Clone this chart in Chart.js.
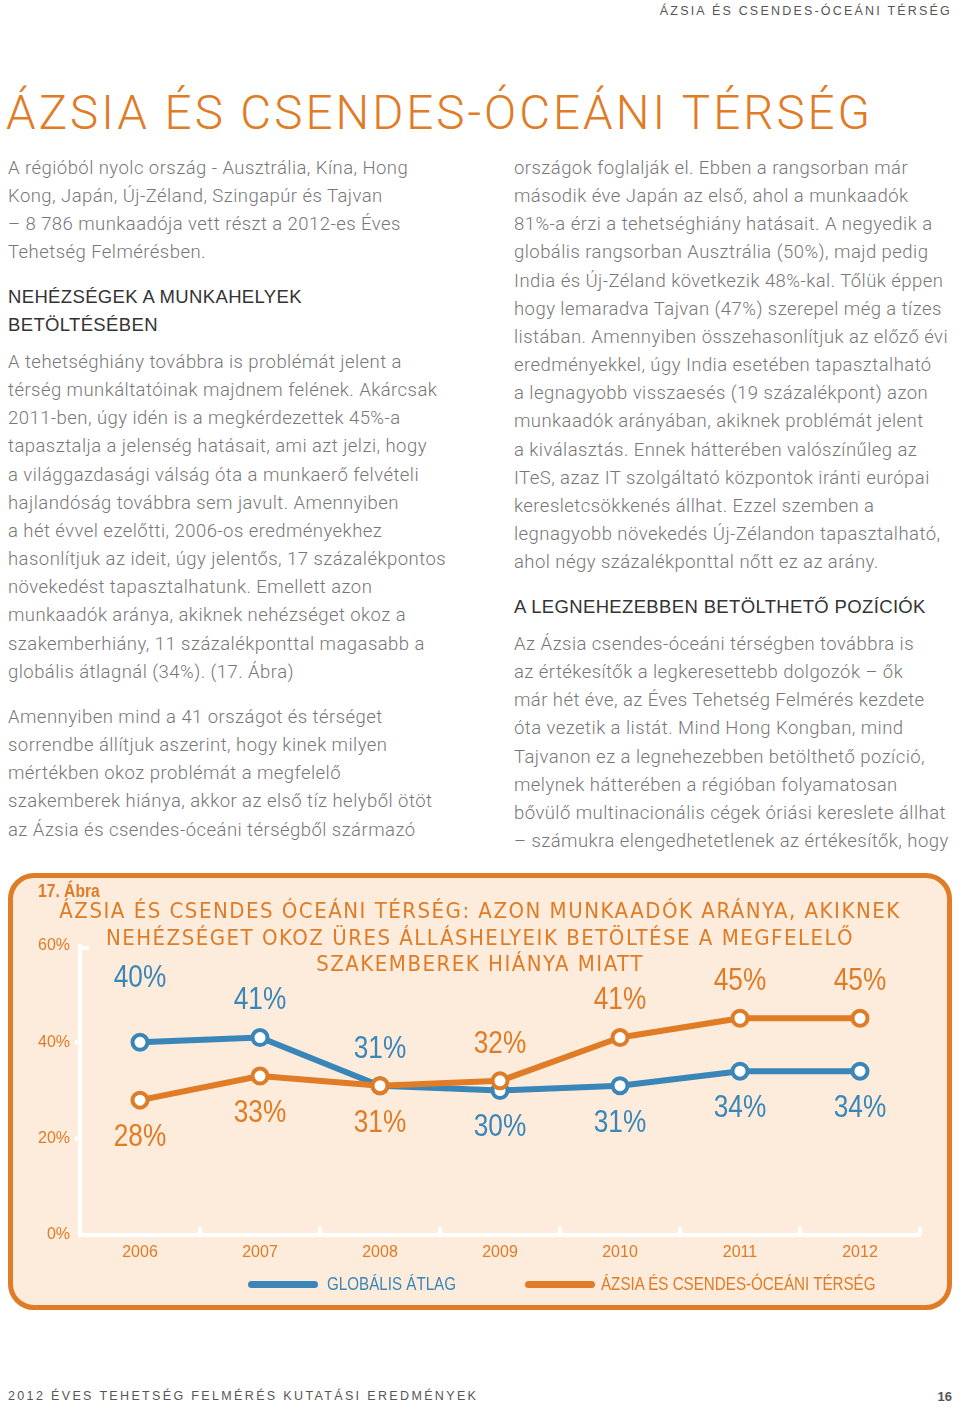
<!DOCTYPE html>
<html lang="hu">
<head>
<meta charset="utf-8">
<script src="https://cdn.jsdelivr.net/npm/chart.js@4.4.1/dist/chart.umd.min.js"></script>
<style>
  html, body { margin: 0; padding: 0; background: #fff; }
  body { width: 960px; height: 1407px; position: relative; overflow: hidden; font-family: Roboto, 'Liberation Sans', sans-serif; }
  .abs { position: absolute; white-space: nowrap; }
  .runhead { right: 8px; top: 4px; font: 12.5px 'Liberation Sans', sans-serif; letter-spacing: 2.2px; color: #555; }
  .title { left: 6px; top: 85px; font-size: 47.5px; font-weight: 300; letter-spacing: 3px; color: #e07b26; }
  .txt { font-size: 18.5px; font-weight: 300; letter-spacing: 0.45px; line-height: 28.15px; color: #777; }
  .hd { font-family: 'Liberation Sans', sans-serif; font-size: 18.5px; line-height: 28px; color: #333; letter-spacing: 0.35px; }
  .foot { left: 8px; top: 1389px; font: 12.5px 'Liberation Sans', sans-serif; letter-spacing: 2.35px; color: #555; }
  .page { right: 8px; top: 1389px; font: bold 13px 'Liberation Sans', sans-serif; color: #555; }
  #box { position: absolute; left: 8px; top: 873px; width: 944px; height: 437px; box-sizing: border-box;
         border: 5px solid #e07b26; border-radius: 26px; background: #fdecdc; }
  #wrap { position: absolute; left: 0; top: 0; width: 934px; height: 427px; }
  .fig { left: 25px; top: 3px; font: bold 18px 'Liberation Sans', sans-serif; color: #e07b26; transform: scaleX(0.87); transform-origin: 0 0; }
  .ctitle { left: 0; width: 934px; top: 20px; text-align: center; font: 22px 'DejaVu Sans Condensed', sans-serif;
            letter-spacing: 1.5px; line-height: 26.5px; color: #e07b26; }
  .leg { top: 396px; font: 18.5px 'Liberation Sans', sans-serif; line-height: 20px; transform: scaleX(0.82); transform-origin: 0 0; }
  .legbar { position: absolute; height: 7px; border-radius: 4px; top: 403px; }
</style>
</head>
<body>
<div class="abs runhead">ÁZSIA ÉS CSENDES-ÓCEÁNI TÉRSÉG</div>
<div class="abs title">ÁZSIA ÉS CSENDES-ÓCEÁNI TÉRSÉG</div>

<div class="abs txt" style="left:8px; top:154px">A régióból nyolc ország - Ausztrália, Kína, Hong<br>Kong, Japán, Új-Zéland, Szingapúr és Tajvan<br>– 8 786 munkaadója vett részt a 2012-es Éves<br>Tehetség Felmérésben.</div>
<div class="abs hd" style="left:8px; top:283px">NEHÉZSÉGEK A MUNKAHELYEK<br>BETÖLTÉSÉBEN</div>
<div class="abs txt" style="left:8px; top:348px">A tehetséghiány továbbra is problémát jelent a<br>térség munkáltatóinak majdnem felének. Akárcsak<br>2011-ben, úgy idén is a megkérdezettek 45%-a<br>tapasztalja a jelenség hatásait, ami azt jelzi, hogy<br>a világgazdasági válság óta a munkaerő felvételi<br>hajlandóság továbbra sem javult. Amennyiben<br>a hét évvel ezelőtti, 2006-os eredményekhez<br>hasonlítjuk az ideit, úgy jelentős, 17 százalékpontos<br>növekedést tapasztalhatunk. Emellett azon<br>munkaadók aránya, akiknek nehézséget okoz a<br>szakemberhiány, 11 százalékponttal magasabb a<br>globális átlagnál (34%). (17. Ábra)</div>
<div class="abs txt" style="left:8px; top:703px">Amennyiben mind a 41 országot és térséget<br>sorrendbe állítjuk aszerint, hogy kinek milyen<br>mértékben okoz problémát a megfelelő<br>szakemberek hiánya, akkor az első tíz helyből ötöt<br>az Ázsia és csendes-óceáni térségből származó</div>

<div class="abs txt" style="left:514px; top:154px">országok foglalják el. Ebben a rangsorban már<br>második éve Japán az első, ahol a munkaadók<br>81%-a érzi a tehetséghiány hatásait. A negyedik a<br>globális rangsorban Ausztrália (50%), majd pedig<br>India és Új-Zéland következik 48%-kal. Tőlük éppen<br>hogy lemaradva Tajvan (47%) szerepel még a tízes<br>listában. Amennyiben összehasonlítjuk az előző évi<br>eredményekkel, úgy India esetében tapasztalható<br>a legnagyobb visszaesés (19 százalékpont) azon<br>munkaadók arányában, akiknek problémát jelent<br>a kiválasztás. Ennek hátterében valószínűleg az<br>ITeS, azaz IT szolgáltató központok iránti európai<br>keresletcsökkenés állhat. Ezzel szemben a<br>legnagyobb növekedés Új-Zélandon tapasztalható,<br>ahol négy százalékponttal nőtt ez az arány.</div>
<div class="abs hd" style="left:514px; top:593px">A LEGNEHEZEBBEN BETÖLTHETŐ POZÍCIÓK</div>
<div class="abs txt" style="left:514px; top:630px">Az Ázsia csendes-óceáni térségben továbbra is<br>az értékesítők a legkeresettebb dolgozók – ők<br>már hét éve, az Éves Tehetség Felmérés kezdete<br>óta vezetik a listát. Mind Hong Kongban, mind<br>Tajvanon ez a legnehezebben betölthető pozíció,<br>melynek hátterében a régióban folyamatosan<br>bővülő multinacionális cégek óriási kereslete állhat<br>– számukra elengedhetetlenek az értékesítők, hogy</div>

<div id="box">
  <div id="wrap"><canvas id="chart"></canvas></div>
  <div class="abs fig">17. Ábra</div>
  <div class="abs ctitle">ÁZSIA ÉS CSENDES ÓCEÁNI TÉRSÉG: AZON MUNKAADÓK ARÁNYA, AKIKNEK<br>NEHÉZSÉGET OKOZ ÜRES ÁLLÁSHELYEIK BETÖLTÉSE A MEGFELELŐ<br>SZAKEMBEREK HIÁNYA MIATT</div>
  <div id="legend"></div>
</div>

<div class="abs foot">2012 ÉVES TEHETSÉG FELMÉRÉS KUTATÁSI EREDMÉNYEK</div>
<div class="abs page">16</div>

<script>
// adatok
const years = ['2006', '2007', '2008', '2009', '2010', '2011', '2012'];
const globalAvg = [40, 41, 31, 30, 31, 34, 34];
const asiaPacific = [28, 33, 31, 32, 41, 45, 45];
const seriesNames = ['GLOBÁLIS ÁTLAG', 'ÁZSIA ÉS CSENDES-ÓCEÁNI TÉRSÉG'];
const yTicks = [0, 20, 40, 60];

const BLUE = '#3a86b9';
const ORANGE = '#e07b26';
const labelFont = "32px 'Liberation Sans', sans-serif";

// fehér tengely-jelölők a kategóriahatárokon és az y értékeknél
const axisMarks = {
  id: 'axisMarks',
  beforeDatasetsDraw(chart) {
    const { ctx, scales: { x, y } } = chart;
    ctx.save();
    ctx.strokeStyle = '#fff';
    ctx.lineWidth = 4;
    ctx.lineCap = 'butt';
    const base = y.getPixelForValue(0);
    for (let i = 0; i <= years.length; i++) {
      const px = x.getPixelForValue(i - 0.5);
      ctx.beginPath();
      ctx.moveTo(px, base);
      ctx.lineTo(px, base - 8);
      ctx.stroke();
    }
    const left = x.getPixelForValue(-0.5);
    yTicks.slice(1, -1).forEach(v => {
      const py = y.getPixelForValue(v);
      ctx.beginPath();
      ctx.moveTo(left, py);
      ctx.lineTo(left - 5, py);
      ctx.stroke();
    });
    const top = y.getPixelForValue(yTicks[yTicks.length - 1]);
    ctx.beginPath();
    ctx.moveTo(left - 2, top + 2);
    ctx.lineTo(left + 9, top + 2);
    ctx.stroke();
    ctx.restore();
  }
};

// értékcímkék: a magasabb sorozaté fölé, az alacsonyabbé alá (keskenyített betűvel)
const valueLabels = {
  id: 'valueLabels',
  afterDatasetsDraw(chart) {
    const { ctx } = chart;
    const sets = chart.data.datasets;
    ctx.save();
    ctx.font = labelFont;
    ctx.textAlign = 'center';
    ctx.textBaseline = 'middle';
    sets.forEach((ds, di) => {
      const meta = chart.getDatasetMeta(di);
      const other = sets[1 - di].data;
      meta.data.forEach((pt, i) => {
        const v = ds.data[i];
        const above = v > other[i] || (v === other[i] && di === 0);
        let off = above ? -37 : 37;
        if (above && i === 0) off = -64;
        ctx.save();
        ctx.translate(pt.x, pt.y + off);
        ctx.scale(0.82, 1);
        ctx.fillStyle = ds.borderColor;
        ctx.fillText(v + '%', 0, 0);
        ctx.restore();
      });
    });
    ctx.restore();
  }
};

const ctx = document.getElementById('chart').getContext('2d');

new Chart(ctx, {
  type: 'line',
  data: {
    labels: years,
    datasets: [
      {
        label: seriesNames[0],
        data: globalAvg,
        borderColor: BLUE,
        order: 2
      },
      {
        label: seriesNames[1],
        data: asiaPacific,
        borderColor: ORANGE,
        order: 1
      }
    ]
  },
  options: {
    responsive: true,
    maintainAspectRatio: false,
    animation: false,
    layout: { padding: { top: 68, right: 27, left: 0, bottom: 0 } },
    elements: {
      line: { borderWidth: 6, tension: 0, borderCapStyle: 'round', borderJoinStyle: 'round' },
      point: { radius: 7.5, borderWidth: 4, backgroundColor: '#fff', hoverRadius: 7.5 }
    },
    plugins: {
      legend: { display: false },
      title: { display: false },
      tooltip: { enabled: false }
    },
    scales: {
      x: {
        offset: true,
        grid: { display: false },
        border: { color: '#fff', width: 4 },
        ticks: { color: ORANGE, font: { family: 'Liberation Sans', size: 16 }, padding: 0, maxRotation: 0 },
        afterFit(scale) { scale.height = 70; }
      },
      y: {
        min: 0,
        max: 60,
        grid: { display: false },
        border: { color: '#fff', width: 4 },
        afterBuildTicks(scale) { scale.ticks = yTicks.map(v => ({ value: v })); },
        ticks: { color: ORANGE, font: { family: 'Liberation Sans', size: 16 }, padding: 2, callback: v => v + '%' },
        afterFit(scale) { scale.width = 67; }
      }
    }
  },
  plugins: [axisMarks, valueLabels]
});

// jelmagyarázat a sorozatok nevéből és színéből
const legendEl = document.getElementById('legend');
const legendPos = [[235, 314], [512, 588]];
[BLUE, ORANGE].forEach((c, i) => {
  const bar = document.createElement('div');
  bar.className = 'legbar';
  bar.style.left = legendPos[i][0] + 'px';
  bar.style.width = '70px';
  bar.style.background = c;
  legendEl.appendChild(bar);
  const t = document.createElement('div');
  t.className = 'abs leg';
  t.style.left = legendPos[i][1] + 'px';
  t.style.color = c;
  t.textContent = seriesNames[i];
  legendEl.appendChild(t);
});
</script>
</body>
</html>
